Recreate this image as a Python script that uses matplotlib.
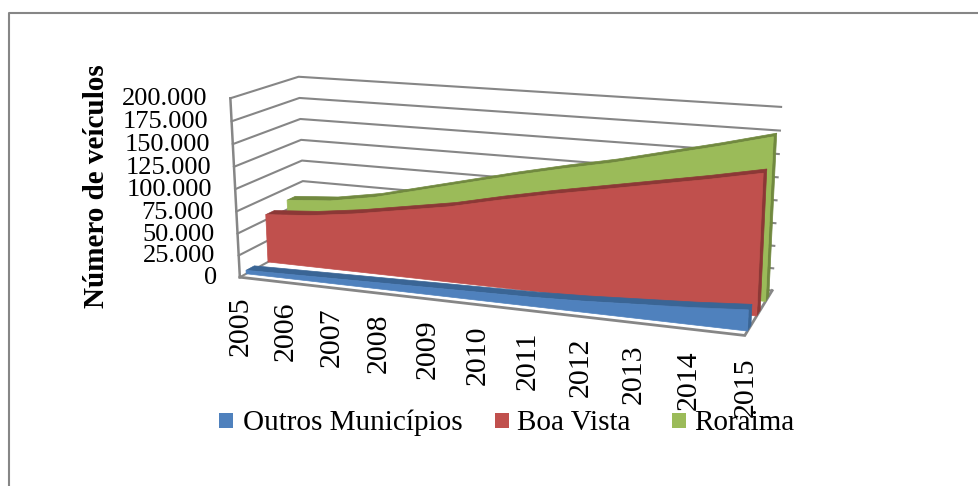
import numpy as np
import matplotlib
matplotlib.use("Agg")
import matplotlib.pyplot as plt
from matplotlib.patches import Polygon, Rectangle

years = ["2005", "2006", "2007", "2008", "2009", "2010", "2011", "2012", "2013", "2014", "2015"]
outros = [4, 5, 6, 7, 8, 9, 10, 12, 15, 18, 22]
boa_vista = [56, 60, 67, 76, 85, 97, 108, 118, 128, 138, 149]
roraima = [61, 65, 74, 87, 100, 113, 125, 136, 149, 162, 176]
y_ticks = [0, 25, 50, 75, 100, 125, 150, 175, 200]
y_labels = ["0", "25.000", "50.000", "75.000", "100.000", "125.000", "150.000", "175.000", "200.000"]
legend_names = ["Outros Municípios", "Boa Vista", "Roraima"]

# pixel positions of the corners of the 3d box, fitted to a projective camera
corners = [((0, 0, 0), (240, 276)), ((0, 1, 0), (230, 99)), ((0, 0, 1), (305, 243)),
           ((0, 1, 1), (299, 76)), ((1, 0, 1), (772, 290)), ((1, 1, 1), (781, 107)),
           ((1, 0, 0), (745, 336))]
rows, rhs = [], []
for (a, b, c), (px, py) in corners:
    rows.append([a, b, c, 1, 0, 0, 0, 0, -px * a, -px * b, -px * c])
    rows.append([0, 0, 0, 0, a, b, c, 1, -py * a, -py * b, -py * c])
    rhs += [px, py]
cam = np.linalg.lstsq(np.array(rows, float), np.array(rhs, float), rcond=None)[0]
cam = np.append(cam, 1.0).reshape(3, 4)


def project(i, val, depth):
    # i: category index, val: thousands of vehicles, depth: 0 front, 1 back
    i, val, depth = np.broadcast_arrays(i, val, depth)
    p = np.stack([i / 10.0, val / 200.0, depth, np.ones_like(i, dtype=float)])
    q = cam @ p
    return np.column_stack([q[0] / q[2], q[1] / q[2]])


fig = plt.figure(figsize=(9.79, 4.86), dpi=100)
ax = fig.add_axes([0, 0, 1, 1])
ax.set_xlim(0, 979)
ax.set_ylim(486, 0)
ax.axis("off")

serif = "Liberation Serif"
grey = "#868686"

# outer frame, only top and left are inside the crop
ax.plot([9.5, 9.5, 979], [486, 13.5, 13.5], color=grey, lw=1.5, zorder=1)

# walls
for v in y_ticks:
    pts = project([0, 0, 10], v, [0, 1, 1])
    ax.plot(pts[:, 0], pts[:, 1], color=grey, lw=1.5, zorder=2)
pts = project([0, 0], [0, 200], [0, 0])
ax.plot(pts[:, 0], pts[:, 1], color=grey, lw=1.8, zorder=2)
pts = project([0, 10, 10], [0, 0, 0], [0, 0, 1])
ax.plot(pts[:, 0], pts[:, 1], color=grey, lw=2, zorder=2, solid_joinstyle="miter")

# areas, back to front
x = np.arange(len(years))
series = [
    (roraima, 0.74, 0.87, "#9bbb59", "#71893f"),
    (boa_vista, 0.41, 0.54, "#c0504d", "#8c3836"),
    (outros, 0.09, 0.21, "#4f81bd", "#3a6595"),
]
z = 3
for vals, d0, d1, col, dark in series:
    vals = np.array(vals, float)
    top_front = project(x, vals, d0)
    top_back = project(x, vals, d1)
    base_front = project(x, 0.0, d0)
    end = np.vstack([project(10, vals[-1], d0), project(10, vals[-1], d1),
                     project(10, 0.0, d1), project(10, 0.0, d0)])
    ax.add_patch(Polygon(end, closed=True, fc=dark, ec=dark, lw=0.5, zorder=z))
    ax.add_patch(Polygon(np.vstack([top_front, top_back[::-1]]), closed=True, fc=dark, ec=dark, lw=0.5, zorder=z))
    ax.add_patch(Polygon(np.vstack([top_front, base_front[::-1]]), closed=True, fc=col, ec=col, lw=0.5, zorder=z + 0.5))
    z += 1

# value labels
for v, lab in zip(y_ticks, y_labels):
    p = project(0, v, 0.0)[0]
    ax.text(p[0] - 23, p[1] + 1, lab, ha="right", va="center", family=serif, fontsize=19, color="black", zorder=10)

# year labels
for i, lab in enumerate(years):
    p = project(i, 0.0, 0.0)[0]
    ax.text(p[0] + 0.5, p[1] + 19 + 0.3 * i, lab, rotation=90, ha="center", va="top", family=serif, fontsize=21.5, color="black", zorder=10)

ax.text(97, 186, "Número de veículos", rotation=90, ha="center", va="center", family=serif, fontsize=21, fontweight="bold", zorder=10)

# legend
legend_cols = ["#4f81bd", "#c0504d", "#9bbb59"]
for name, col, bx, tx in zip(legend_names, legend_cols, [219.5, 495, 672], [243, 517, 694]):
    ax.add_patch(Rectangle((bx, 413), 14, 15, fc=col, ec="none", zorder=10))
    ax.text(tx, 430, name, ha="left", va="baseline", family=serif, fontsize=21, zorder=10)

fig.savefig("out.png", dpi=100)
